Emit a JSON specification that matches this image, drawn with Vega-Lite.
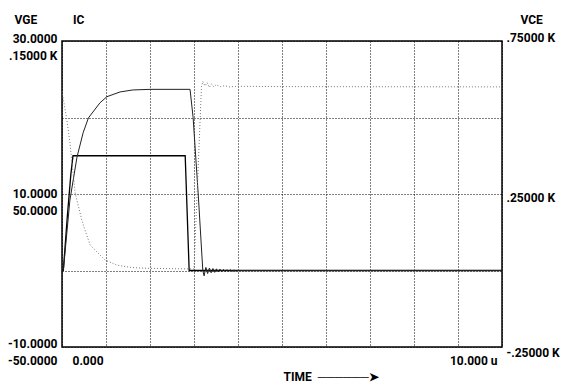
{
  "$schema": "https://vega.github.io/schema/vega-lite/v6.json",
  "width": 440,
  "height": 306,
  "autosize": {"type": "none"},
  "padding": {"left": 62, "top": 41, "right": 64, "bottom": 38},
  "background": "white",
  "config": {
    "view": {"stroke": "black", "strokeWidth": 1.5},
    "font": "Roboto",
    "axis": {
      "labelFont": "Roboto",
      "labelFontSize": 12,
      "labelFontWeight": "bold",
      "labelColor": "black",
      "titleFont": "Roboto",
      "titleFontSize": 12,
      "titleFontWeight": "bold",
      "titleColor": "black",
      "ticks": false,
      "domain": false,
      "labelOverlap": false,
      "labelFlush": false,
      "labelBound": false,
      "gridColor": "black",
      "gridDash": [1, 2],
      "gridWidth": 1,
      "gridOpacity": 1
    }
  },
  "data": {
    "values": [
      {"s": "VGE", "t": 0, "v": 0},
      {"s": "VGE", "t": 0.03, "v": 0},
      {"s": "VGE", "t": 0.12, "v": 7},
      {"s": "VGE", "t": 0.2, "v": 12.5},
      {"s": "VGE", "t": 0.25, "v": 15},
      {"s": "VGE", "t": 2.8, "v": 15},
      {"s": "VGE", "t": 2.83, "v": 10},
      {"s": "VGE", "t": 2.89, "v": 0},
      {"s": "VGE", "t": 10, "v": 0},

      {"s": "IC", "t": 0, "v": 0},
      {"s": "IC", "t": 0.03, "v": 0},
      {"s": "IC", "t": 0.18, "v": 46},
      {"s": "IC", "t": 0.34, "v": 74},
      {"s": "IC", "t": 0.48, "v": 90},
      {"s": "IC", "t": 0.6, "v": 99.7},
      {"s": "IC", "t": 0.86, "v": 109.5},
      {"s": "IC", "t": 1.02, "v": 113.6},
      {"s": "IC", "t": 1.32, "v": 116.7},
      {"s": "IC", "t": 1.61, "v": 118},
      {"s": "IC", "t": 2.0, "v": 118.4},
      {"s": "IC", "t": 2.91, "v": 118.4},
      {"s": "IC", "t": 2.98, "v": 100},
      {"s": "IC", "t": 3.1, "v": 48},
      {"s": "IC", "t": 3.2, "v": 0},
      {"s": "IC", "t": 3.23, "v": -3.5},
      {"s": "IC", "t": 3.27, "v": 2},
      {"s": "IC", "t": 3.31, "v": -2},
      {"s": "IC", "t": 3.35, "v": 1.6},
      {"s": "IC", "t": 3.39, "v": -1.5},
      {"s": "IC", "t": 3.43, "v": 1.3},
      {"s": "IC", "t": 3.47, "v": -1.2},
      {"s": "IC", "t": 3.51, "v": 1.1},
      {"s": "IC", "t": 3.55, "v": -1.0},
      {"s": "IC", "t": 3.59, "v": 0.9},
      {"s": "IC", "t": 3.63, "v": -0.8},
      {"s": "IC", "t": 3.67, "v": 0.7},
      {"s": "IC", "t": 3.71, "v": -0.6},
      {"s": "IC", "t": 3.75, "v": 0.5},
      {"s": "IC", "t": 3.79, "v": -0.5},
      {"s": "IC", "t": 3.83, "v": 0.4},
      {"s": "IC", "t": 3.87, "v": -0.4},
      {"s": "IC", "t": 3.91, "v": 0.3},
      {"s": "IC", "t": 3.95, "v": -0.3},
      {"s": "IC", "t": 4.0, "v": 0},
      {"s": "IC", "t": 10, "v": 0},

      {"s": "VCE", "t": 0, "v": 585},
      {"s": "VCE", "t": 0.1, "v": 503},
      {"s": "VCE", "t": 0.18, "v": 417},
      {"s": "VCE", "t": 0.3, "v": 253},
      {"s": "VCE", "t": 0.45, "v": 165},
      {"s": "VCE", "t": 0.56, "v": 116},
      {"s": "VCE", "t": 0.64, "v": 83},
      {"s": "VCE", "t": 0.98, "v": 34},
      {"s": "VCE", "t": 1.24, "v": 18},
      {"s": "VCE", "t": 1.47, "v": 12},
      {"s": "VCE", "t": 1.66, "v": 9},
      {"s": "VCE", "t": 2.0, "v": 7},
      {"s": "VCE", "t": 2.5, "v": 6},
      {"s": "VCE", "t": 3.0, "v": 5},
      {"s": "VCE", "t": 3.07, "v": 250},
      {"s": "VCE", "t": 3.17, "v": 600},
      {"s": "VCE", "t": 3.2, "v": 618},
      {"s": "VCE", "t": 3.25, "v": 603},
      {"s": "VCE", "t": 3.3, "v": 614},
      {"s": "VCE", "t": 3.35, "v": 598},
      {"s": "VCE", "t": 3.4, "v": 610},
      {"s": "VCE", "t": 3.45, "v": 600},
      {"s": "VCE", "t": 3.5, "v": 607},
      {"s": "VCE", "t": 3.6, "v": 601},
      {"s": "VCE", "t": 3.7, "v": 604},
      {"s": "VCE", "t": 3.8, "v": 600},
      {"s": "VCE", "t": 4.0, "v": 602},
      {"s": "VCE", "t": 5.0, "v": 601},
      {"s": "VCE", "t": 10, "v": 600}
    ]
  },
  "encoding": {
    "x": {
      "field": "t",
      "type": "quantitative",
      "scale": {"domain": [0, 10], "nice": false, "zero": false},
      "axis": {
        "values": [0, 1, 2, 3, 4, 5, 6, 7, 8, 9, 10],
        "grid": true,
        "labelExpr": "datum.value == 0 ? '0.000' : datum.value == 10 ? '10.000 u' : ''",
        "labelAlign": {"condition": {"test": "datum.value == 0", "value": "left"}, "value": "right"},
        "labelOffset": {"condition": {"test": "datum.value == 0", "value": 10}, "value": -5},
        "labelBaseline": "top",
        "labelPadding": 8,
        "title": "TIME \u00a0\u2500\u2500\u2500\u2500\u2500\u2500\u27A4",
        "titleAlign": "left",
        "titleBaseline": "alphabetic",
        "titleX": 221,
        "titleY": 33
      }
    }
  },
  "layer": [
    {
      "transform": [{"filter": "datum.s == 'VGE'"}],
      "mark": {"type": "line", "color": "black", "strokeWidth": 1.3, "clip": true},
      "encoding": {
        "y": {
          "field": "v",
          "type": "quantitative",
          "scale": {"domain": [-10, 30], "nice": false, "zero": false},
          "axis": {
            "orient": "left",
            "values": [30, 20, 10, 0, -10],
            "grid": true,
            "labelExpr": "datum.value == 30 ? ['30.0000', '.15000 K'] : datum.value == 10 ? ['10.0000', '50.0000'] : datum.value == -10 ? ['-10.0000', '', '-50.0000'] : ''",
            "labelBaseline": "alphabetic",
            "labelLineHeight": 17,
            "labelOffset": {"condition": [{"test": "datum.value == 30", "value": 1}, {"test": "datum.value == 10", "value": 3}], "value": 0},
            "labelPadding": 5,
            "title": "VGE\u00a0\u00a0\u00a0\u00a0\u00a0\u00a0\u00a0\u00a0\u00a0\u00a0\u00a0\u00a0IC",
            "titleAngle": 0,
            "titleAlign": "left",
            "titleBaseline": "alphabetic",
            "titleX": -48,
            "titleY": -18
          }
        }
      }
    },
    {
      "transform": [{"filter": "datum.s == 'IC'"}],
      "mark": {"type": "line", "color": "#222222", "strokeWidth": 1, "clip": true},
      "encoding": {
        "y": {
          "field": "v",
          "type": "quantitative",
          "scale": {"domain": [-50, 150], "nice": false, "zero": false},
          "axis": null
        }
      }
    },
    {
      "transform": [{"filter": "datum.s == 'VCE'"}],
      "mark": {"type": "line", "color": "#777777", "strokeWidth": 1, "strokeDash": [1, 2], "clip": true},
      "encoding": {
        "y": {
          "field": "v",
          "type": "quantitative",
          "scale": {"domain": [-250, 750], "nice": false, "zero": false},
          "axis": {
            "orient": "right",
            "values": [750, 250, -250],
            "grid": false,
            "labelExpr": "datum.value == 750 ? '.75000 K' : datum.value == 250 ? '.25000 K' : '-.25000 K'",
            "labelBaseline": "middle",
            "labelAlign": "left",
            "labelOffset": {"condition": [{"test": "datum.value == 750", "value": -4}, {"test": "datum.value == 250", "value": 3}], "value": 5},
            "labelPadding": 4,
            "title": "VCE",
            "titleAngle": 0,
            "titleAlign": "left",
            "titleBaseline": "alphabetic",
            "titleX": 18,
            "titleY": -18
          }
        }
      }
    }
  ],
  "resolve": {"scale": {"y": "independent"}, "axis": {"y": "independent"}}
}
